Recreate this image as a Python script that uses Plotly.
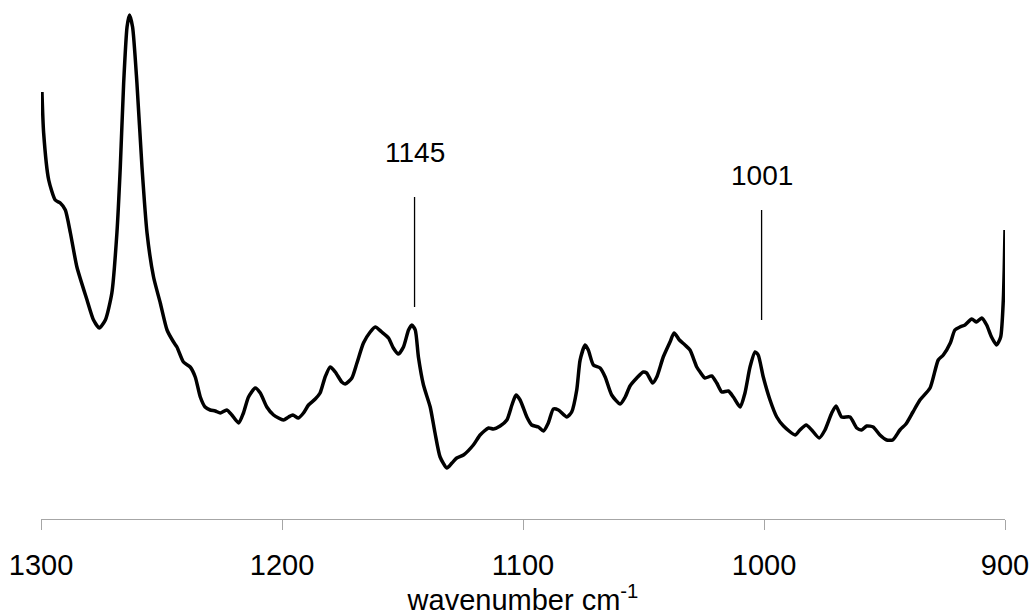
import plotly.graph_objects as go

# FTIR spectrum, 1300-900 cm-1 (intensity in arbitrary units)
wavenumber = [
    1299.6, 1298.9, 1296.8, 1294.1, 1292.0, 1289.9, 1287.8, 1285.1, 1280.9, 1278.2,
    1275.8, 1273.3, 1270.6, 1268.5, 1267.1, 1265.7, 1264.3, 1263.3, 1262.0, 1260.2,
    1258.1, 1256.0, 1253.3, 1250.5, 1247.7, 1245.0, 1243.6, 1240.9, 1238.1, 1236.0,
    1233.9, 1231.9, 1229.8, 1227.7, 1225.6, 1222.9, 1220.8, 1218.0, 1216.0, 1213.9,
    1211.1, 1209.0, 1206.3, 1203.5, 1199.4, 1197.3, 1195.5, 1193.2, 1191.1, 1189.0,
    1186.2, 1184.2, 1182.1, 1180.0, 1177.9, 1175.2, 1173.8, 1171.0, 1168.9, 1166.2,
    1163.4, 1161.3, 1158.6, 1155.8, 1153.8, 1151.7, 1149.6, 1147.5, 1146.1, 1144.7,
    1143.4, 1141.3, 1138.5, 1136.5, 1134.4, 1131.6, 1129.5, 1127.5, 1124.7, 1120.6,
    1117.8, 1114.3, 1112.3, 1109.5, 1106.7, 1104.6, 1102.9, 1101.2, 1098.4, 1096.4,
    1093.6, 1091.5, 1089.5, 1087.4, 1085.3, 1081.8, 1079.8, 1077.7, 1076.3, 1074.2,
    1072.9, 1070.8, 1068.0, 1065.9, 1063.2, 1059.7, 1057.6, 1055.6, 1052.8, 1050.1,
    1048.7, 1046.2, 1044.5, 1041.8, 1039.0, 1037.3, 1035.1, 1032.8, 1030.7, 1027.9,
    1026.5, 1024.5, 1021.7, 1019.6, 1017.5, 1014.8, 1012.7, 1009.9, 1007.9, 1005.8,
    1003.7, 1002.4, 1000.3, 997.5, 994.7, 991.9, 987.1, 985.1, 982.5, 980.2,
    977.1, 974.7, 971.9, 970.1, 967.8, 964.3, 961.5, 959.5, 957.4, 954.7,
    951.9, 949.1, 946.6, 943.6, 941.1, 938.2, 935.3, 931.1, 927.7, 925.6,
    922.7, 920.8, 918.7, 916.6, 913.8, 911.8, 909.7, 907.6, 905.6, 903.5,
    901.8, 900.7, 900.3, 900.0,
]
intensity = [
    427, 386, 339, 319, 316, 309, 286, 252, 219, 199,
    191, 199, 226, 286, 352, 436, 492, 504, 492, 436,
    352, 286, 242, 216, 189, 177, 172, 157, 152, 142,
    122, 112, 109, 108, 106, 109, 104, 96, 106, 122,
    131, 126, 112, 104, 99, 102, 104, 101, 106, 114,
    120, 126, 142, 152, 147, 137, 135, 141, 156, 176,
    187, 192, 187, 181, 171, 165, 172, 189, 194, 189,
    162, 134, 112, 86, 62, 51, 56, 61, 64, 74,
    84, 91, 90, 93, 99, 114, 124, 119, 102, 94,
    92, 88, 96, 110, 109, 102, 107, 129, 159, 174,
    169, 154, 151, 142, 124, 115, 122, 133, 141, 147,
    146, 136, 142, 162, 177, 186, 179, 174, 169, 152,
    147, 141, 143, 136, 127, 128, 122, 112, 126, 152,
    167, 164, 142, 119, 102, 93, 84, 89, 94, 89,
    81, 89, 106, 113, 102, 102, 91, 89, 93, 92,
    84, 79, 79, 89, 95, 107, 119, 131, 159, 164,
    176, 189, 192, 194, 200, 197, 201, 194, 182, 174,
    182, 219, 252, 289,
]

# Marked bands: position, label height, marker line span
band_pos = [1145, 1001]
band_text = ["1145", "1001"]
band_label_y = [367, 344]
band_line_top = [322, 309]
band_line_bottom = [212, 199]

tick_vals = [1300, 1200, 1100, 1000, 900]

font_family = "Liberation Sans, Arial, sans-serif"

fig = go.Figure()
fig.add_trace(go.Scatter(
    x=wavenumber, y=intensity, mode="lines",
    line=dict(color="#000000", width=3.5, shape="spline", smoothing=0.6),
    showlegend=False, hoverinfo="skip",
))

for pos, txt, ly, top, bot in zip(band_pos, band_text, band_label_y,
                                  band_line_top, band_line_bottom):
    fig.add_shape(type="line", xref="x", yref="y", x0=pos, x1=pos, y0=bot, y1=top,
                  line=dict(color="#000000", width=1.3))
    fig.add_annotation(x=pos, y=ly, xref="x", yref="y", text=txt, showarrow=False,
                       font=dict(family=font_family, size=28, color="#000000"))

fig.update_layout(
    width=1032, height=616,
    margin=dict(l=41, r=27, t=0, b=97),
    paper_bgcolor="white", plot_bgcolor="white",
    font=dict(family=font_family, size=29, color="#000000"),
    xaxis=dict(
        range=[1300, 900], tickvals=tick_vals, ticktext=[str(v) for v in tick_vals],
        showgrid=False, zeroline=False, showline=True, linecolor="#a6a6a6", linewidth=1.3,
        ticks="outside", ticklen=10, tickwidth=1.3, tickcolor="#a6a6a6",
        ticklabelstandoff=10,
        tickfont=dict(family=font_family, size=29, color="#000000"),
        title=dict(text="wavenumber cm<sup>-1</sup>", standoff=0,
                   font=dict(family=font_family, size=29, color="#000000")),
    ),
    yaxis=dict(range=[0, 519], visible=False, showgrid=False, zeroline=False),
)

fig.write_html("out.html")
